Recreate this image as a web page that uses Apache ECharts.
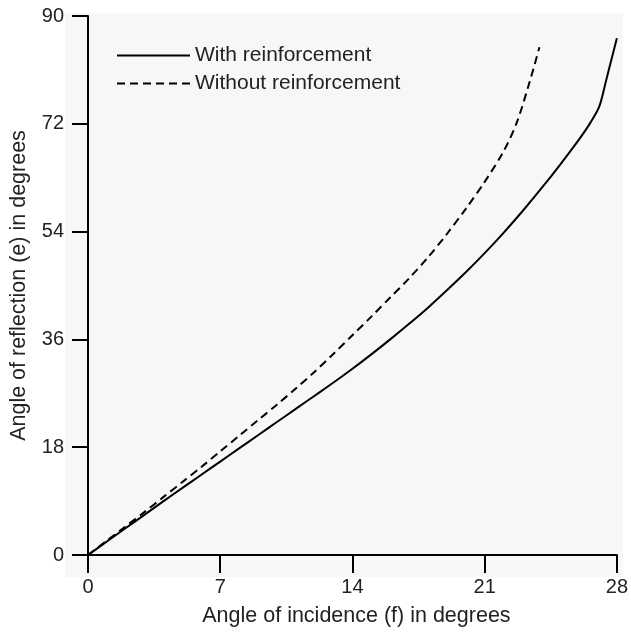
<!DOCTYPE html>
<html>
<head>
<meta charset="utf-8">
<script src="https://cdn.jsdelivr.net/npm/echarts@6/dist/echarts.min.js"></script>
<style>html,body{margin:0;padding:0;background:#fff}#c{width:631px;height:632px}</style>
</head>
<body>
<div id="c"></div>
<script>
var seriesNames = ['With reinforcement', 'Without reinforcement'];
var withReinforcement = [
  [0,0],[1,2.25],[2,4.5],[3,6.75],[4,9.0],[5,11.2],[6,13.4],[7,15.6],[8,17.8],[9,20.0],
  [10,22.2],[11,24.4],[12,26.6],[13,28.8],[14,31.1],[15,33.5],[16,36.0],[17,38.6],
  [18,41.3],[19,44.2],[20,47.2],[21,50.4],[22,53.8],[23,57.4],[24,61.2],[25,65.2],
  [26,69.4],[26.6,72.2],[27.07,74.9],[27.45,79.5],[28,86.3]
];
var withoutReinforcement = [
  [0,0],[1,2.4],[2,4.8],[3,7.2],[4,9.7],[5,12.2],[6,14.7],[7,17.3],[8,19.9],[9,22.5],
  [10,25.1],[11,27.8],[12,30.6],[13,33.6],[14,36.7],[15,39.8],[16,43.0],[17,46.2],
  [18,49.7],[19,53.6],[20,57.8],[21,62.3],[22,67.4],[22.7,72.2],[23.4,79.2],[23.9,84.8]
];
var xTicks = {min: 0, max: 28, interval: 7};
var yTicks = {min: 0, max: 90, interval: 18};
var xName = 'Angle of incidence (f) in degrees';
var yName = 'Angle of reflection (e) in degrees';

var chart = echarts.init(document.getElementById('c'), null, {renderer: 'canvas'});
var font = 'Liberation Sans, Arial, Helvetica, sans-serif';
chart.setOption({
  animation: false,
  backgroundColor: '#ffffff',
  graphic: [{
    type: 'rect', z: -10, silent: true,
    shape: {x: 65, y: 13, width: 558, height: 564},
    style: {fill: '#f7f7f7'}
  }],
  grid: {left: 86, right: 10, top: 16, bottom: 75, containLabel: false},
  legend: {
    data: seriesNames,
    orient: 'vertical',
    left: 111, top: 40,
    itemWidth: 73, itemHeight: 14, itemGap: 7,
    itemStyle: {opacity: 0},
    textStyle: {fontFamily: font, fontSize: 21, color: '#222', lineHeight: 21}
  },
  xAxis: {
    type: 'value', min: xTicks.min, max: xTicks.max, interval: xTicks.interval,
    name: xName, nameLocation: 'middle', nameGap: 50,
    nameTextStyle: {fontFamily: font, fontSize: 21.5, color: '#222', padding: [0, 0, 0, 8]},
    axisLine: {show: true, onZero: false, lineStyle: {color: '#000', width: 2}},
    axisTick: {show: true, length: 18, lineStyle: {color: '#000', width: 2}},
    axisLabel: {fontFamily: font, fontSize: 20, color: '#222', margin: 22},
    splitLine: {show: false}
  },
  yAxis: {
    type: 'value', min: yTicks.min, max: yTicks.max, interval: yTicks.interval,
    name: yName, nameLocation: 'middle', nameGap: 58,
    nameTextStyle: {fontFamily: font, fontSize: 21.5, color: '#222'},
    axisLine: {show: true, onZero: false, lineStyle: {color: '#000', width: 2}},
    axisTick: {show: true, length: 16, lineStyle: {color: '#000', width: 2}},
    axisLabel: {fontFamily: font, fontSize: 20, color: '#222', margin: 24},
    splitLine: {show: false}
  },
  series: [
    {
      name: seriesNames[0], type: 'line', data: withReinforcement, symbol: 'none', smooth: 0.3,
      lineStyle: {color: '#000', width: 2, type: 'solid'}, itemStyle: {color: '#000'}
    },
    {
      name: seriesNames[1], type: 'line', data: withoutReinforcement, symbol: 'none', smooth: 0.3,
      lineStyle: {color: '#000', width: 2, type: [8, 5]}, itemStyle: {color: '#000'}
    }
  ]
});
</script>
</body>
</html>
